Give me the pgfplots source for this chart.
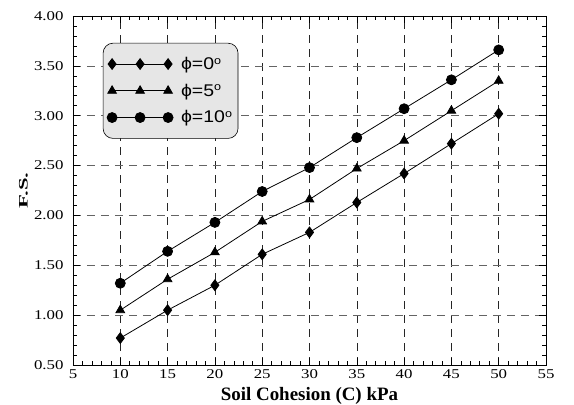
\documentclass[border=0pt]{standalone}
\usepackage{fontspec}
\setmainfont{Liberation Serif}
\newfontfamily\tickfont[FakeStretch=1.25]{Liberation Serif}
\newfontfamily\fsfont[FakeStretch=1.75]{Liberation Serif}
\newfontfamily\legfont[FakeStretch=1.15]{Liberation Sans}
\usepackage{pgfplots}
\pgfplotsset{compat=1.18}
\definecolor{legbg}{RGB}{230,230,230}
\definecolor{gridc}{RGB}{100,100,100}
\newcommand{\degsign}{\raisebox{0.6ex}{\fontsize{11}{11}\selectfont o}}

\begin{document}
\begin{tikzpicture}
\begin{axis}[
    scale only axis,
    width=473bp, height=349bp,
    xmin=5, xmax=55, ymin=0.5, ymax=4.0,
    xtick={5,10,...,55},
    ytick={0.5,1.0,...,4.0},
    minor x tick num=4,
    minor y tick num=4,
    tick align=inside,
    major tick length=7bp,
    minor tick length=4bp,
    tick style={black, line width=0.6pt},
    axis line style={line width=0.9pt},
    grid=major,
    major grid style={gridc, dash pattern=on 8bp off 6bp, line width=0.6pt},
    x grid style={black!85},
    /pgf/number format/assume math mode=true,
    xticklabel={\pgfmathprintnumber{\tick}},
    yticklabel={\pgfmathprintnumber[fixed, fixed zerofill, precision=2]{\tick}},
    every tick label/.append style={font=\tickfont\fontsize{13.5}{15}\selectfont},
    y tick label style={xshift=-6bp},
    x tick label style={yshift=-1bp},
    xlabel={\textbf{Soil Cohesion (C) kPa}},
    ylabel={\textbf{F.S.}},
    xlabel style={font=\fontsize{19}{21}\selectfont, at={(axis description cs:0.5,0)},
        anchor=north, inner sep=0pt, yshift=-22bp},
    ylabel style={font=\fsfont\fontsize{13}{15}\selectfont, at={(axis description cs:-0.105,0.5)},
        anchor=center, inner sep=0pt},
    legend style={at={(0.063,0.923)}, anchor=north west, fill=legbg, draw=black,
        line width=0.6pt,
        rounded corners=10bp, font=\legfont\fontsize{17}{19}\selectfont,
        inner xsep=4bp, inner ysep=12bp, row sep=9bp},
    legend cell align=left,
    legend image code/.code={
        \draw[#1] plot coordinates {(0bp,0bp) (28bp,0bp) (56bp,0bp)};
    },
    every axis plot/.append style={black, line width=0.8pt},
]
\addplot[mark=diamond*, mark size=5.4bp] coordinates {
    (10,0.77) (15,1.05) (20,1.30) (25,1.61) (30,1.83) (35,2.13) (40,2.42) (45,2.72) (50,3.02)
};
\addplot[mark=triangle*, mark size=5bp] coordinates {
    (10,1.05) (15,1.36) (20,1.63) (25,1.94) (30,2.16) (35,2.47) (40,2.75) (45,3.05) (50,3.35)
};
\addplot[mark=*, mark size=5bp] coordinates {
    (10,1.32) (15,1.64) (20,1.93) (25,2.24) (30,2.48) (35,2.78) (40,3.07) (45,3.36) (50,3.66)
};
\legend{\hspace{6bp}ϕ=0\degsign, \hspace{6bp}ϕ=5\degsign, \hspace{6bp}ϕ=10\degsign}
\end{axis}
\pgfresetboundingbox
\path[use as bounding box] ([xshift=-73bp,yshift=-40bp]current axis.south west) rectangle ([xshift=28bp,yshift=16bp]current axis.north east);
\end{tikzpicture}
\end{document}
